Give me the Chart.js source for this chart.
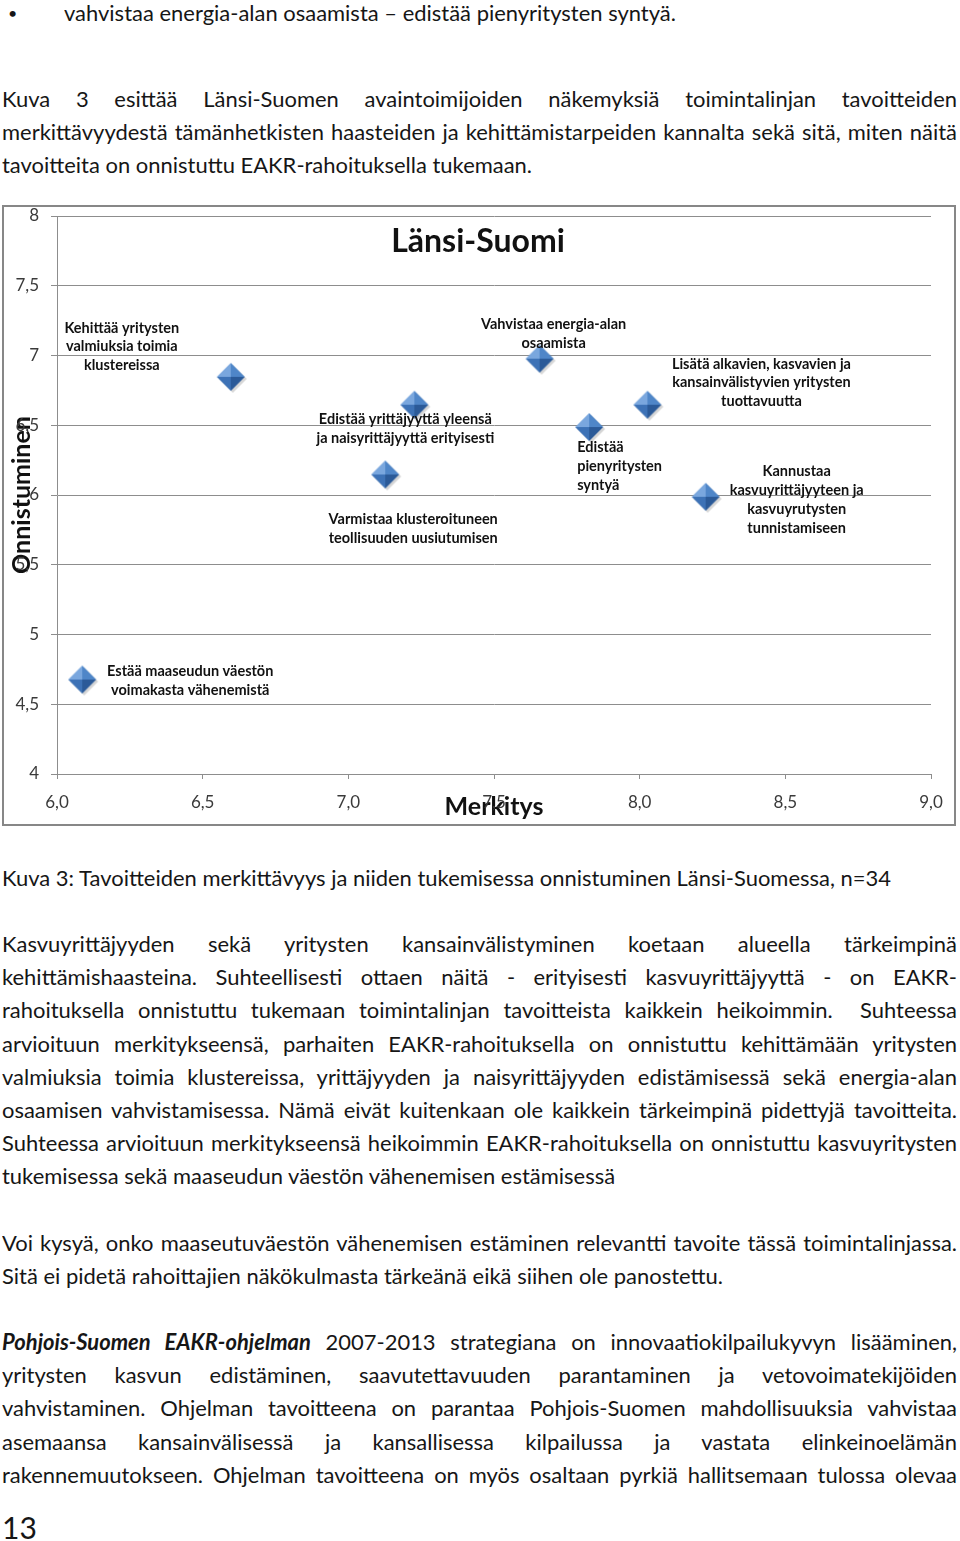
<!DOCTYPE html>
<html lang="fi">
<head>
<meta charset="utf-8">
<title>Länsi-Suomi</title>
<script src="https://cdn.jsdelivr.net/npm/chart.js@4.4.1/dist/chart.umd.min.js"></script>
<style>
  body { margin: 0; background: #fff; }
  .page { position: relative; width: 960px; height: 1541px; overflow: hidden;
          font-family: Lato, "Open Sans", sans-serif; color: #161616; font-size: 22px; }
  .ln { position: absolute; left: 2px; height: 33px; line-height: 33px; white-space: nowrap;
        transform-origin: 0 50%; }
  .ln.j { text-align: justify; text-align-last: justify; white-space: normal; }
  .bullet { position: absolute; left: 8px; top: 0; font-size: 16px; line-height: 26px; }
  .pagenum { position: absolute; left: 2px; top: 1508px; font-size: 30px; line-height: 38px; }
  #chartBox { position: absolute; left: 2px; top: 205px; width: 954px; height: 621px;
              border: 2px solid #878787; box-sizing: border-box; }
</style>
</head>
<body>
<div class="page">
  <div class="bullet">•</div>
  <div class="ln" data-y="12" data-x="64">vahvistaa energia-alan osaamista – edistää pienyritysten syntyä.</div>

  <div class="ln j" data-y="98">Kuva 3 esittää Länsi-Suomen avaintoimijoiden näkemyksiä toimintalinjan tavoitteiden</div>
  <div class="ln j" data-y="131">merkittävyydestä tämänhetkisten haasteiden ja kehittämistarpeiden kannalta sekä sitä, miten näitä</div>
  <div class="ln" data-y="164">tavoitteita on onnistuttu EAKR-rahoituksella tukemaan.</div>

  <div id="chartBox"><canvas id="chart"></canvas></div>

  <div class="ln" id="caption" data-y="877">Kuva 3: Tavoitteiden merkittävyys ja niiden tukemisessa onnistuminen Länsi-Suomessa, n=34</div>

  <div class="ln j" data-y="943">Kasvuyrittäjyyden sekä yritysten kansainvälistyminen koetaan alueella tärkeimpinä</div>
  <div class="ln j" data-y="976">kehittämishaasteina. Suhteellisesti ottaen näitä - erityisesti kasvuyrittäjyyttä - on EAKR-</div>
  <div class="ln j" data-y="1009">rahoituksella onnistuttu tukemaan toimintalinjan tavoitteista kaikkein heikoimmin. &nbsp;Suhteessa</div>
  <div class="ln j" data-y="1043">arvioituun merkitykseensä, parhaiten EAKR-rahoituksella on onnistuttu kehittämään yritysten</div>
  <div class="ln j" data-y="1076">valmiuksia toimia klustereissa, yrittäjyyden ja naisyrittäjyyden edistämisessä sekä energia-alan</div>
  <div class="ln j" data-y="1109">osaamisen vahvistamisessa. Nämä eivät kuitenkaan ole kaikkein tärkeimpinä pidettyjä tavoitteita.</div>
  <div class="ln j" data-y="1142">Suhteessa arvioituun merkitykseensä heikoimmin EAKR-rahoituksella on onnistuttu kasvuyritysten</div>
  <div class="ln" data-y="1175">tukemisessa sekä maaseudun väestön vähenemisen estämisessä</div>

  <div class="ln j" data-y="1242">Voi kysyä, onko maaseutuväestön vähenemisen estäminen relevantti tavoite tässä toimintalinjassa.</div>
  <div class="ln" data-y="1275">Sitä ei pidetä rahoittajien näkökulmasta tärkeänä eikä siihen ole panostettu.</div>

  <div class="ln j" data-y="1341"><b><i>Pohjois-Suomen EAKR-ohjelman</i></b> 2007-2013 strategiana on innovaatiokilpailukyvyn lisääminen,</div>
  <div class="ln j" data-y="1374">yritysten kasvun edistäminen, saavutettavuuden parantaminen ja vetovoimatekijöiden</div>
  <div class="ln j" data-y="1407">vahvistaminen. Ohjelman tavoitteena on parantaa Pohjois-Suomen mahdollisuuksia vahvistaa</div>
  <div class="ln j" data-y="1441">asemaansa kansainvälisessä ja kansallisessa kilpailussa ja vastata elinkeinoelämän</div>
  <div class="ln j" data-y="1474">rakennemuutokseen. Ohjelman tavoitteena on myös osaltaan pyrkiä hallitsemaan tulossa olevaa</div>

  <div class="pagenum">13</div>
</div>

<script>
// --- data ---
const chartTitle = 'Länsi-Suomi';
const xTitle = 'Merkitys';
const yTitle = 'Onnistuminen';

const xValues = [6.60, 7.23, 7.13, 7.66, 7.83, 8.03, 8.23, 6.09];
const yValues = [6.84, 6.64, 6.14, 6.97, 6.48, 6.64, 5.98, 4.67];

const pointLabels = [
  ['Kehittää yritysten', 'valmiuksia toimia', 'klustereissa'],
  ['Edistää yrittäjyyttä yleensä', 'ja naisyrittäjyyttä erityisesti'],
  ['Varmistaa klusteroituneen', 'teollisuuden uusiutumisen'],
  ['Vahvistaa energia-alan', 'osaamista'],
  ['Edistää', 'pienyritysten', 'syntyä'],
  ['Lisätä alkavien, kasvavien ja', 'kansainvälistyvien yritysten', 'tuottavuutta'],
  ['Kannustaa', 'kasvuyrittäjyyteen ja', 'kasvuyrutysten', 'tunnistamiseen'],
  ['Estää maaseudun väestön', 'voimakasta vähenemistä']
];

const xTickLabels = ['6,0', '6,5', '7,0', '7,5', '8,0', '8,5', '9,0'];
const yTickLabels = ['4', '4,5', '5', '5,5', '6', '6,5', '7', '7,5', '8'];

// label placement relative to its marker (px): centre offset, alignment
const labelPlace = [
  { dx: -110, dy: -31, align: 'center' },
  { dx: -10, dy: 23, align: 'center' },
  { dx: 27, dy: 53, align: 'center' },
  { dx: 13, dy: -26, align: 'center' },
  { dx: -13, dy: 38, align: 'left' },
  { dx: 113, dy: -23, align: 'center' },
  { dx: 90, dy: 2, align: 'center' },
  { dx: 107, dy: 0, align: 'center' }
];

// --- page text: condense glyphs like the scanned page ---
function layoutText() {
  const cap = document.getElementById('caption');
  const natural = cap.getBoundingClientRect().width;
  const sx = 889 / natural;
  document.querySelectorAll('.ln').forEach(el => {
    const left = Number(el.dataset.x || 2);
    el.style.left = left + 'px';
    el.style.top = (Number(el.dataset.y) - 16.5) + 'px';
    if (el.classList.contains('j')) el.style.width = ((957 - left) / sx) + 'px';
    el.style.transform = 'scaleX(' + sx + ')';
  });
}

// --- bevelled diamond marker ---
function diamondMarker() {
  const c = document.createElement('canvas');
  c.width = 36; c.height = 36;
  const g = c.getContext('2d');
  const cx = 17, cy = 17, r = 14;
  g.fillStyle = 'rgba(0,0,0,0.16)';
  g.beginPath();
  g.moveTo(cx + 2, cy + 2 - r); g.lineTo(cx + 2 + r, cy + 2);
  g.lineTo(cx + 2, cy + 2 + r); g.lineTo(cx + 2 - r, cy + 2);
  g.closePath(); g.fill();
  const faces = [
    [[cx, cy - r], [cx - r, cy], '#7aa7de'],
    [[cx, cy - r], [cx + r, cy], '#4f86c8'],
    [[cx - r, cy], [cx, cy + r], '#3d72b6'],
    [[cx + r, cy], [cx, cy + r], '#2b5a98']
  ];
  faces.forEach(([a, b, col]) => {
    g.fillStyle = col;
    g.beginPath();
    g.moveTo(a[0], a[1]); g.lineTo(b[0], b[1]); g.lineTo(cx, cy);
    g.closePath(); g.fill();
  });
  return c;
}

const annotate = {
  id: 'annotate',
  afterDatasetsDraw(chart) {
    const ctx = chart.ctx;
    const area = chart.chartArea;
    ctx.save();
    ctx.fillStyle = '#111';
    ctx.textBaseline = 'middle';
    ctx.textAlign = 'center';
    ctx.font = 'bold 32px Lato, sans-serif';
    ctx.fillText(chartTitle, area.left + 421, area.top + 26);

    ctx.font = 'bold 14.5px Lato, sans-serif';
    const lh = 18.8;
    const meta = chart.getDatasetMeta(0);
    meta.data.forEach((pt, i) => {
      const lines = pointLabels[i];
      const p = labelPlace[i];
      ctx.textAlign = p.align;
      const y0 = pt.y + p.dy - (lines.length - 1) * lh / 2;
      lines.forEach((t, k) => ctx.fillText(t, pt.x + p.dx, y0 + k * lh));
    });
    ctx.restore();
  }
};

layoutText();

const gridColor = '#8d8d8d';
const tickFont = { family: 'Lato, sans-serif', size: 17 };
const titleFont = { family: 'Lato, sans-serif', size: 25, weight: 'bold' };

new Chart(document.getElementById('chart'), {
  type: 'scatter',
  data: {
    datasets: [{
      data: xValues.map((x, i) => ({ x: x, y: yValues[i] })),
      pointStyle: diamondMarker(),
      pointRadius: 14,
      pointHoverRadius: 14
    }]
  },
  options: {
    responsive: true,
    maintainAspectRatio: false,
    animation: false,
    layout: { autoPadding: false, padding: { left: 0, right: 23, top: 9, bottom: 0 } },
    plugins: {
      legend: { display: false },
      tooltip: { enabled: false }
    },
    scales: {
      x: {
        type: 'linear', min: 6, max: 9,
        afterFit: s => { s.height = 50; s.paddingLeft = 0; s.paddingRight = 0; },
        ticks: {
          stepSize: 0.5,
          color: '#3a3a3a',
          font: tickFont,
          padding: 13,
          maxRotation: 0,
          callback: (v, i) => xTickLabels[i]
        },
        grid: { drawOnChartArea: false, tickLength: 5, color: gridColor },
        border: { color: gridColor },
        title: {
          display: true, text: xTitle, color: '#111', font: titleFont,
          padding: { top: 0, bottom: 2 }
        }
      },
      y: {
        type: 'linear', min: 4, max: 8,
        afterFit: s => { s.width = 53; s.paddingTop = 0; s.paddingBottom = 0; },
        ticks: {
          stepSize: 0.5,
          color: '#3a3a3a',
          font: tickFont,
          padding: 12,
          callback: (v, i) => yTickLabels[i]
        },
        grid: { tickLength: 6, color: gridColor },
        border: { color: gridColor },
        title: {
          display: true, text: yTitle, color: '#111', font: titleFont,
          padding: { top: 3, bottom: 0 }
        }
      }
    }
  },
  plugins: [annotate]
});
</script>
</body>
</html>
